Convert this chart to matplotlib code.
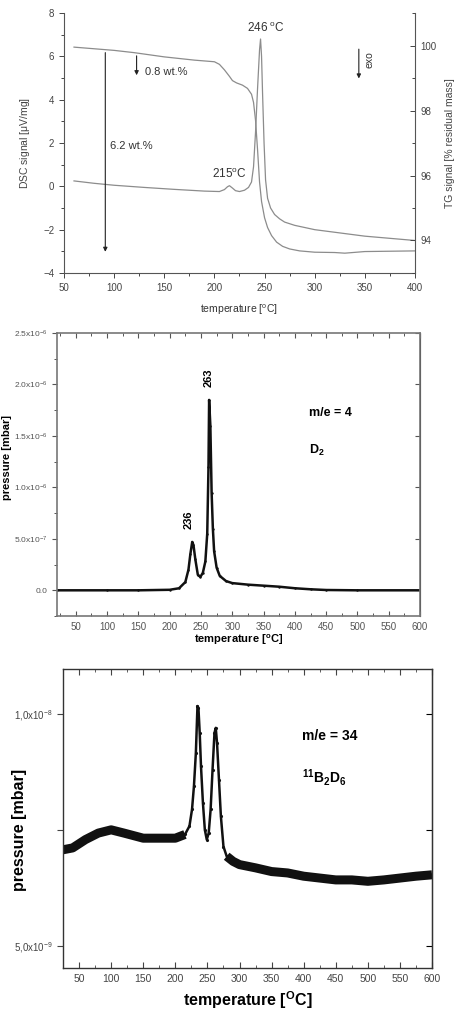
import numpy as np
import matplotlib
matplotlib.use('Agg')
import matplotlib.pyplot as plt
from matplotlib.ticker import MultipleLocator, FixedLocator

plt.rcParams['font.family'] = ['Liberation Sans', 'DejaVu Sans']
plt.rcParams['mathtext.default'] = 'regular'

# --- panel 1: DSC / TG ---
dsc_T = [60, 80, 100, 130, 160, 190, 205, 210, 213, 215, 218, 221, 225, 230, 234, 237, 239,
         241, 243, 245, 246, 247, 248, 249.5, 251, 253, 256, 260, 265, 270, 280, 300, 325,
         350, 375, 400]
dsc_val = [0.25, 0.14, 0.05, -0.05, -0.14, -0.22, -0.24, -0.15, -0.02, 0.03, -0.08, -0.2,
           -0.24, -0.18, -0.05, 0.2, 0.9, 2.5, 4.5, 6.3, 6.8, 6.0, 4.3, 2.0, 0.3, -0.55,
           -1.0, -1.3, -1.5, -1.65, -1.8, -2.0, -2.15, -2.3, -2.4, -2.5]
tg_T = [60, 80, 100, 120, 150, 180, 200, 205, 210, 215, 218, 222, 228, 233, 237, 239, 241,
        243, 245, 247, 250, 253, 257, 262, 268, 275, 285, 300, 320, 330, 350, 375, 400]
tg_val = [99.95, 99.9, 99.85, 99.78, 99.65, 99.55, 99.5, 99.42, 99.25, 99.05, 98.92, 98.85,
          98.78, 98.68, 98.5, 98.25, 97.7, 96.8, 95.8, 95.2, 94.7, 94.4, 94.15, 93.95, 93.82,
          93.74, 93.68, 93.64, 93.63, 93.61, 93.66, 93.67, 93.68]

# --- panel 2: m/e = 4 (D2), pressure in 1e-6 mbar ---
d2_T = [20, 100, 150, 200, 215, 225, 230, 233, 236, 238, 241, 245, 249, 253, 257, 260, 262,
        263, 265, 267, 269, 271, 275, 280, 290, 300, 325, 350, 375, 400, 425, 450, 500, 600]
d2_p = [0, 0, 0.0, 0.005, 0.02, 0.08, 0.2, 0.35, 0.47, 0.44, 0.3, 0.15, 0.13, 0.17, 0.28,
        0.55, 1.2, 1.85, 1.6, 0.95, 0.6, 0.38, 0.22, 0.14, 0.09, 0.07, 0.055, 0.045, 0.035,
        0.02, 0.01, 0.003, 0, 0]
d2_yticks = [0, 0.5, 1.0, 1.5, 2.0, 2.5]
d2_ylabels = ['0.0', r'5.0x10$^{-7}$', r'1.0x10$^{-6}$', r'1.5x10$^{-6}$',
              r'2.0x10$^{-6}$', r'2.5x10$^{-6}$']

# --- panel 3: m/e = 34 (11B2D6), pressure in 1e-9 mbar ---
b2d6_T = [25, 40, 60, 80, 100, 120, 150, 175, 200, 215, 222, 226, 229, 232, 234.5, 236, 238,
          240, 243, 246, 249, 252, 255, 258, 261, 263, 265, 268, 271, 275, 280, 290, 300, 325,
          350, 375, 400, 425, 450, 475, 500, 525, 550, 575, 600]
b2d6_p = [7.07, 7.11, 7.29, 7.43, 7.50, 7.43, 7.32, 7.32, 7.32, 7.40, 7.58, 7.94, 8.44, 9.16,
          10.17, 10.13, 9.59, 8.87, 8.08, 7.50, 7.29, 7.43, 7.94, 8.80, 9.59, 9.70, 9.37, 8.58,
          7.79, 7.14, 6.93, 6.82, 6.75, 6.68, 6.60, 6.57, 6.50, 6.46, 6.42, 6.42, 6.39, 6.42,
          6.46, 6.50, 6.53]
b2d6_yticks = [5.0, 7.5, 10.0]
b2d6_ylabels = [r'5,0x10$^{-9}$', '', r'1,0x10$^{-8}$']

fig = plt.figure(figsize=(4.58, 10.24), dpi=100)
gray = '#8c8c8c'

# ================= panel 1 =================
ax1 = fig.add_axes([0.1397, 0.7334, 0.7664, 0.2539])
ax1.plot(dsc_T, dsc_val, color=gray, lw=0.9)
ax1.set_xlim(50, 400)
ax1.set_ylim(-4, 8)
ax1.spines['top'].set_visible(False)
ax1.spines['right'].set_visible(False)
for s in ['left', 'bottom']:
    ax1.spines[s].set_color('#555555')
    ax1.spines[s].set_linewidth(0.8)
ax1.xaxis.set_major_locator(MultipleLocator(50))
ax1.xaxis.set_minor_locator(MultipleLocator(25))
ax1.yaxis.set_major_locator(MultipleLocator(2))
ax1.yaxis.set_minor_locator(MultipleLocator(1))
ax1.tick_params(which='both', direction='out', labelsize=7, colors='#444444', width=0.7)
ax1.tick_params(which='major', length=3.5)
ax1.tick_params(which='minor', length=2)
ax1.set_ylabel(r'DSC signal [$\mu$V/mg]', fontsize=7.5, color='#444444', labelpad=8)

ax1b = ax1.twinx()
ax1b.plot(tg_T, tg_val, color=gray, lw=0.9)
ax1b.set_ylim(93, 101)
ax1b.spines['top'].set_visible(False)
ax1b.spines['left'].set_visible(False)
ax1b.spines['bottom'].set_visible(False)
ax1b.spines['right'].set_color('#555555')
ax1b.spines['right'].set_linewidth(0.8)
ax1b.yaxis.set_major_locator(FixedLocator([94, 96, 98, 100]))
ax1b.yaxis.set_minor_locator(MultipleLocator(1))
ax1b.tick_params(which='both', direction='in', labelsize=7, colors='#444444', width=0.7, pad=4)
ax1b.tick_params(which='major', length=3.5)
ax1b.tick_params(which='minor', length=2)
ax1b.set_ylabel('TG signal [% residual mass]', fontsize=7.5, color='#444444', labelpad=6)

arw = dict(arrowstyle='-|>', color='#222222', lw=0.8, mutation_scale=6)
ax1.annotate('', xy=(91.2, -3.15), xytext=(91.2, 6.3), arrowprops=arw)
ax1.annotate('', xy=(122.4, 5.0), xytext=(122.4, 6.15), arrowprops=arw)
ax1.annotate('', xy=(344, 4.85), xytext=(344, 6.46), arrowprops=arw)
ax1.text(130.8, 5.3, '0.8 wt.%', fontsize=8, color='#333333', va='center')
ax1.text(96, 1.85, '6.2 wt.%', fontsize=8, color='#333333', va='center')
ax1.text(251.4, 7.3, '246 $^o$C', fontsize=8.5, color='#333333', ha='center', va='center')
ax1.text(214.8, 0.58, '215$^o$C', fontsize=8.5, color='#333333', ha='center', va='center')
ax1.text(355, 5.85, 'exo', fontsize=7.5, color='#333333', ha='center', va='center', rotation=90)
fig.text(239 / 458, 1 - 310 / 1024, 'temperature [$^o$C]', fontsize=7.5, color='#333333',
         ha='center', va='center')

# ================= panel 2 =================
ax2 = fig.add_axes([0.1245, 0.3984, 0.7926, 0.2764])
ax2.plot(d2_T, np.array(d2_p) * 1e-6, color='#111111', lw=1.8, marker='.', ms=1.5)
ax2.set_xlim(20, 600)
ax2.set_ylim(-0.25e-6, 2.5e-6)
ax2.xaxis.set_major_locator(MultipleLocator(50))
ax2.xaxis.set_minor_locator(MultipleLocator(25))
ax2.yaxis.set_major_locator(FixedLocator([v * 1e-6 for v in d2_yticks]))
ax2.yaxis.set_minor_locator(MultipleLocator(0.25e-6))
ax2.set_yticklabels(d2_ylabels)
for s in ax2.spines.values():
    s.set_color('#777777')
    s.set_linewidth(1.2)
ax2.tick_params(axis='x', which='both', direction='in', top=True, labelsize=7,
                colors='#555555', pad=4)
ax2.tick_params(axis='y', which='both', direction='out', labelsize=6, colors='#555555')
ax2.tick_params(which='major', length=3.5, width=0.8)
ax2.tick_params(which='minor', length=2, width=0.7)
ax2r = ax2.secondary_yaxis('right')
ax2r.set_yticks([v * 1e-6 for v in d2_yticks])
ax2r.tick_params(direction='in', length=3.5, labelright=False, colors='#555555')
ax2.text(263, 2.07e-6, '263', fontsize=8, fontweight='bold', rotation=90, ha='center', va='center')
ax2.text(230.7, 0.69e-6, '236', fontsize=8, fontweight='bold', rotation=90, ha='center', va='center')
ax2.text(423, 1.72e-6, 'm/e = 4', fontsize=9, fontweight='bold', va='center')
ax2.text(423, 1.36e-6, r'D$_2$', fontsize=9, fontweight='bold', va='center')
ax2.set_xlabel('temperature [$^o$C]', fontsize=8, fontweight='bold', labelpad=1)
fig.text(7 / 458, 1 - 458 / 1024, 'pressure [mbar]', fontsize=8, fontweight='bold',
         rotation=90, ha='center', va='center')

# ================= panel 3 =================
ax3 = fig.add_axes([0.1376, 0.0547, 0.8057, 0.292])
T3 = np.array(b2d6_T, dtype=float)
P3 = np.array(b2d6_p) * 1e-9
ax3.plot(T3, P3, color='#111111', lw=1.8, marker='.', ms=2.5)
band = np.where((T3 < 222) | (T3 > 275), P3, np.nan)
ax3.plot(T3, band, color='#111111', lw=6.5, solid_capstyle='butt')
ax3.set_xlim(25, 600)
ax3.set_ylim(4.52e-9, 10.97e-9)
ax3.xaxis.set_major_locator(MultipleLocator(50))
ax3.xaxis.set_minor_locator(MultipleLocator(25))
ax3.yaxis.set_major_locator(FixedLocator([v * 1e-9 for v in b2d6_yticks]))
ax3.set_yticklabels(b2d6_ylabels)
for s in ax3.spines.values():
    s.set_color('#333333')
    s.set_linewidth(1.0)
ax3.tick_params(axis='x', which='both', direction='in', top=True, labelsize=7.5,
                colors='#444444', pad=4)
ax3.tick_params(axis='x', which='major', length=4)
ax3.tick_params(axis='x', which='minor', length=2)
ax3.tick_params(axis='y', direction='out', length=4, labelsize=7, colors='#444444')
ax3r = ax3.secondary_yaxis('right')
ax3r.set_yticks([v * 1e-9 for v in b2d6_yticks])
ax3r.tick_params(direction='in', length=4, labelright=False)
ax3.text(397.5, 9.53e-9, 'm/e = 34', fontsize=10, fontweight='bold', va='center')
ax3.text(397.5, 8.62e-9, r'$^{11}$B$_2$D$_6$', fontsize=10, fontweight='bold', va='center')
ax3.set_xlabel('temperature [$^O$C]', fontsize=11.5, fontweight='bold', labelpad=4)
fig.text(20 / 458, 1 - 830 / 1024, 'pressure [mbar]', fontsize=11.5, fontweight='bold',
         rotation=90, ha='center', va='center')

fig.savefig('out.png', dpi=100)
